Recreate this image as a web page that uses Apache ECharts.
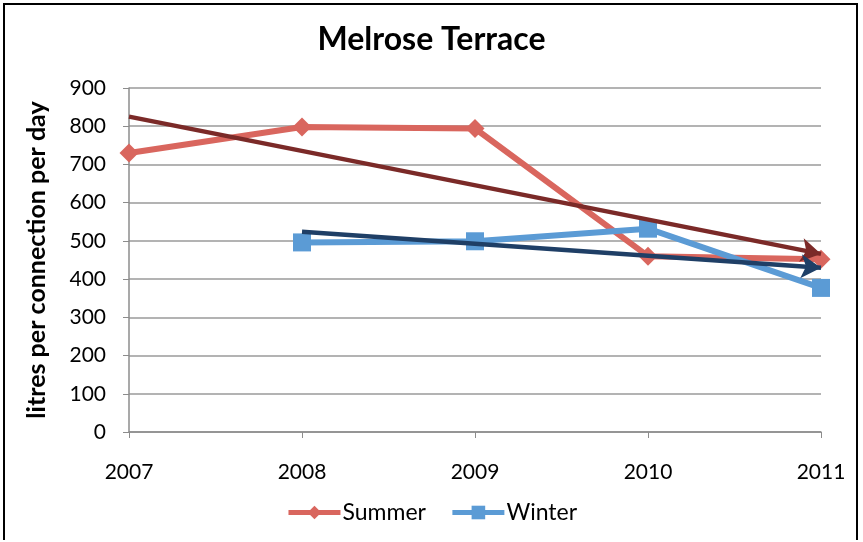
<!DOCTYPE html>
<html><head><meta charset="utf-8">
<script src="https://cdn.jsdelivr.net/npm/echarts@6/dist/echarts.min.js"></script>
<style>
html,body{margin:0;padding:0;background:#fff;}
#frame{position:absolute;left:3px;top:3px;width:855px;height:537px;border:2px solid #000;border-bottom:none;box-sizing:border-box;}
#c{position:absolute;left:0;top:0;width:863px;height:542px;}
</style></head><body>
<div id="frame"></div>
<div id="c"></div>
<script>
const years = ['2007','2008','2009','2010','2011'];
const summer = [730, 798, 794, 460, 452];
const winter = [null, 496, 499, 532, 377];
const summerTrend = [825, 466];   // 2007 -> 2011
const winterTrend = [524, 430];   // 2008 -> 2011
const yTicks = [0, 900, 100];

const font = 'Lato, "Open Sans", sans-serif';
const chart = echarts.init(document.getElementById('c'), null, {renderer:'canvas'});
chart.setOption({
  animation:false,
  title:{text:'Melrose Terrace',left:'center',top:19,
    textStyle:{fontFamily:font,fontSize:32,fontWeight:'bold',color:'#000'}},
  grid:{left:129,right:42,top:88,bottom:110},
  legend:{data:['Summer','Winter'],bottom:13,left:'center',itemWidth:52,itemHeight:17,itemGap:24,
    lineStyle:{width:5},
    textStyle:{fontFamily:font,fontSize:23,color:'#000',padding:[0,0,0,-3]}},
  xAxis:{type:'category',data:years,boundaryGap:false,
    axisLine:{lineStyle:{color:'#8c8c8c',width:1.5}},
    axisTick:{show:true,length:6,lineStyle:{color:'#8c8c8c'}},
    axisLabel:{fontFamily:font,fontSize:21,color:'#000',margin:30}},
  yAxis:{type:'value',min:yTicks[0],max:yTicks[1],interval:yTicks[2],
    name:'litres per connection per day',nameLocation:'middle',nameGap:80,
    nameTextStyle:{fontFamily:font,fontSize:25,fontWeight:'bold',color:'#000'},
    axisLine:{show:true,lineStyle:{color:'#8c8c8c',width:1.5}},
    axisTick:{show:true,length:6,lineStyle:{color:'#8c8c8c'}},
    splitLine:{lineStyle:{color:'#9a9a9a',width:1.5}},
    axisLabel:{fontFamily:font,fontSize:21,color:'#000',margin:23}},
  series:[
    {name:'Summer',type:'line',data:summer,symbol:'diamond',symbolSize:19,
      lineStyle:{color:'#D9665E',width:6},itemStyle:{color:'#D9665E'},z:2},
    {name:'Winter',type:'line',data:winter,symbol:'rect',symbolSize:18,
      lineStyle:{color:'#5B9BD5',width:6},itemStyle:{color:'#5B9BD5'},z:2},
    {name:'trendS',type:'line',data:[],z:3,
      markLine:{silent:true,symbol:['none','arrow'],symbolSize:[18,20],label:{show:false},
        lineStyle:{color:'#7B2A28',width:4.5,type:'solid'},
        data:[[{coord:[years[0],summerTrend[0]]},{coord:[years[4],summerTrend[1]]}]]}},
    {name:'trendW',type:'line',data:[],z:3,
      markLine:{silent:true,symbol:['none','arrow'],symbolSize:[18,20],label:{show:false},
        lineStyle:{color:'#1F3F66',width:4.5,type:'solid'},
        data:[[{coord:[years[1],winterTrend[0]]},{coord:[years[4],winterTrend[1]]}]]}}
  ]
});
</script>
</body></html>
